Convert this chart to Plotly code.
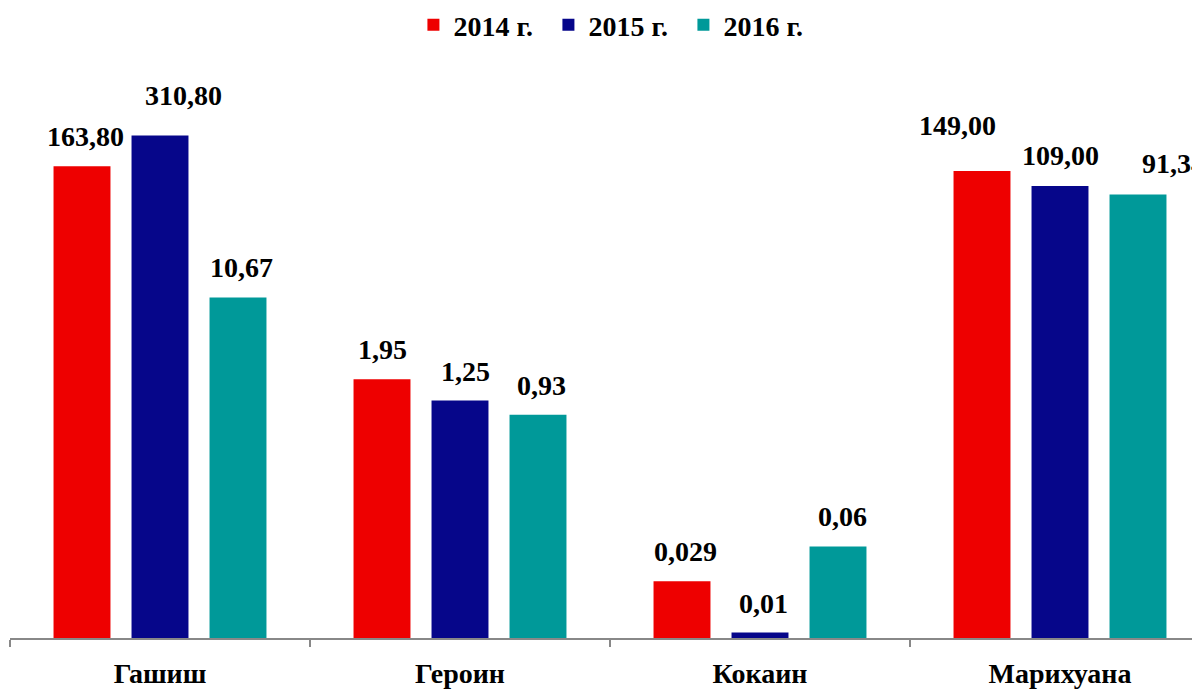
import math
import plotly.graph_objects as go

categories = ["Гашиш", "Героин", "Кокаин", "Марихуана"]
years = ["2014 г.", "2015 г.", "2016 г."]
values_2014 = [163.80, 1.95, 0.029, 149.00]
values_2015 = [310.80, 1.25, 0.01, 109.00]
values_2016 = [10.67, 0.93, 0.06, 91.34]
labels_2014 = ["163,80", "1,95", "0,029", "149,00"]
labels_2015 = ["310,80", "1,25", "0,01", "109,00"]
labels_2016 = ["10,67", "0,93", "0,06", "91,34"]

series = [values_2014, values_2015, values_2016]
series_labels = [labels_2014, labels_2015, labels_2016]
colors = ["#EE0000", "#06068A", "#009999"]

# label nudges (px): horizontal and vertical gap above bar
nudge_x = [[3, 0, 3, -25], [23, 5, 3, 0], [3, 3, 4, 35]]
gap_y = [[12, 12, 12, 28], [23, 12, 11, 13], [13, 12, 12, 13]]

FONT = "Liberation Serif"
fig = go.Figure()
for name, vals, col in zip(years, series, colors):
    fig.add_trace(go.Bar(x=categories, y=vals, name=name, marker=dict(color=col, line=dict(width=0))))

slot_px = 78
for s, (vals, labs) in enumerate(zip(series, series_labels)):
    for c, (cat, v, lab) in enumerate(zip(categories, vals, labs)):
        fig.add_annotation(
            x=cat, y=math.log10(v), xref="x", yref="y",
            text=lab, showarrow=False,
            xanchor="center", yanchor="bottom",
            xshift=(s - 1) * slot_px + nudge_x[s][c], yshift=gap_y[s][c],
            font=dict(family=FONT, size=28, color="black", weight="bold"),
        )

fig.update_layout(
    width=1192, height=681,
    margin=dict(l=2, r=0, t=52, b=51),
    paper_bgcolor="white", plot_bgcolor="white",
    barmode="group", bargap=0.22, bargroupgap=0.27,
    font=dict(family=FONT, size=28, color="black", weight="bold"),
    legend=dict(orientation="h", xref="container", yref="container",
                x=0.51, xanchor="center", y=1 - 17 / 681, yanchor="middle",
                font=dict(family=FONT, size=28, color="black", weight="bold"),
                itemwidth=30, entrywidth=90, entrywidthmode="pixels"),
    showlegend=True,
)
fig.update_xaxes(
    range=[-0.5, -0.5 + 1190 / 300], showline=True, linecolor="#888888", linewidth=2,
    ticks="outside", tickson="boundaries", ticklen=7, tickcolor="#888888", tickwidth=2,
    ticklabelstandoff=9,
    tickfont=dict(family=FONT, size=28, color="black", weight="bold"), showgrid=False,
)
fig.update_yaxes(
    type="log", range=[-2.05, 3.176], showgrid=False, showticklabels=False,
    zeroline=False, showline=False, ticks="",
)
fig.write_html("out.html")
